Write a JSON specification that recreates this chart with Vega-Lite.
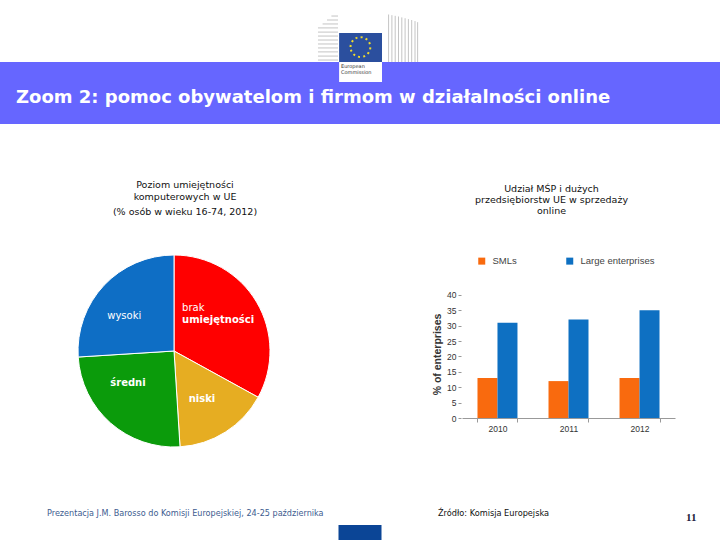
{
  "$schema": "https://vega.github.io/schema/vega-lite/v6.json",
  "background": "white",
  "padding": 0,
  "spacing": 0,
  "config": {"view": {"stroke": null}, "font": "DejaVu Sans"},
  "resolve": {"scale": {"color": "independent", "x": "independent", "y": "independent"}, "legend": {"color": "independent"}},
  "vconcat": [
    {
      "width": 720,
      "height": 180,
      "data": {"values": [
        {"strefa": "pasek", "element": "tytuł", "tekst": "Zoom 2: pomoc obywatelom i firmom w działalności online"},
        {"strefa": "logo", "element": "logo", "tekst": "European\nCommission"}
      ]},
      "encoding": {
        "y": {"field": "strefa", "type": "nominal", "scale": {"type": "band", "domain": ["logo", "pasek", "odstęp"], "range": [0, 186], "paddingInner": 0, "paddingOuter": 0}, "axis": null}
      },
      "layer": [
        {"transform": [{"filter": "datum.strefa === 'pasek'"}], "mark": {"type": "rect", "color": "#6666FF"}},
        {"transform": [{"filter": "datum.strefa === 'pasek'"}],
         "mark": {"type": "text", "align": "left", "baseline": "alphabetic", "dy": 10, "fontSize": 18, "fontWeight": "bold", "color": "white"},
         "encoding": {"x": {"field": "element", "type": "nominal", "scale": {"type": "point", "domain": ["tytuł", "logo"], "range": [16, 360], "padding": 0}, "axis": null}, "text": {"field": "tekst"}}},
        {"transform": [{"filter": "datum.strefa === 'logo'"}],
         "mark": {"type": "point", "shape": "M-1.3,-0.68H-1M-1.5,-0.5H-1M-1.7,-0.32H-1M-1.91,-0.14H-1M-1.91,0.05H-1M-1.91,0.23H-1M-1.91,0.41H-1M-1.91,0.59H-1M-1.91,0.77H-1M-1.91,0.95H-1M-1.91,1.14H-1M-1.91,1.32H-1M1.3,-0.75V1.41M1.45,-0.72V1.41M1.6,-0.69V1.41M1.75,-0.66V1.41M1.9,-0.62V1.41M2.05,-0.58V1.41M2.2,-0.54V1.41M2.35,-0.5V1.41M2.5,-0.45V1.41M2.62,-0.4V1.41", "size": 1936, "filled": false, "stroke": "#C4C4C4", "strokeWidth": 1, "opacity": 1},
         "encoding": {"x": {"field": "element", "type": "nominal", "scale": {"type": "point", "domain": ["tytuł", "logo"], "range": [16, 360], "padding": 0}, "axis": null}}},
        {"transform": [{"filter": "datum.strefa === 'logo'"}],
         "mark": {"type": "point", "shape": "M-0.95,0.09H1V1.41H-0.95Z", "size": 1936, "filled": true, "color": "#2B4F9E", "strokeWidth": 0, "opacity": 1},
         "encoding": {"x": {"field": "element", "type": "nominal", "scale": {"type": "point", "domain": ["tytuł", "logo"], "range": [16, 360], "padding": 0}, "axis": null}}},
        {"transform": [{"filter": "datum.strefa === 'logo'"}],
         "mark": {"type": "point", "shape": "M-0.95,1.41H1V2.32H-0.95Z", "size": 1936, "filled": true, "color": "#FFFFFF", "strokeWidth": 0, "opacity": 1},
         "encoding": {"x": {"field": "element", "type": "nominal", "scale": {"type": "point", "domain": ["tytuł", "logo"], "range": [16, 360], "padding": 0}, "axis": null}}},
        {"transform": [{"filter": "datum.strefa === 'logo'"}],
         "mark": {"type": "point", "shape": "M-0.43,0.73A0.45,0.45 0 1,1 0.47,0.73A0.45,0.45 0 1,1 -0.43,0.73Z", "size": 1936, "filled": false, "stroke": "#F2DC2A", "strokeWidth": 2, "strokeDash": [2, 3.2], "opacity": 1},
         "encoding": {"x": {"field": "element", "type": "nominal", "scale": {"type": "point", "domain": ["tytuł", "logo"], "range": [16, 360], "padding": 0}, "axis": null}}},
        {"transform": [{"filter": "datum.strefa === 'logo'"}],
         "mark": {"type": "text", "align": "left", "baseline": "top", "dx": -19, "dy": 33, "fontSize": 5, "lineBreak": "\n", "lineHeight": 6, "color": "#333333"},
         "encoding": {"x": {"field": "element", "type": "nominal", "scale": {"type": "point", "domain": ["tytuł", "logo"], "range": [16, 360], "padding": 0}, "axis": null}, "text": {"field": "tekst"}}}
      ]
    },
    {
      "spacing": 84,
      "resolve": {"scale": {"color": "independent"}, "legend": {"color": "independent"}},
      "hconcat": [
        {
          "width": 348,
          "height": 194,
          "title": {"text": ["Poziom umiejętności", "komputerowych w UE"], "subtitle": "(% osób w wieku 16-74, 2012)", "font": "DejaVu Sans", "subtitleFont": "DejaVu Sans", "fontSize": 9.5, "subtitleFontSize": 9.5, "fontWeight": "normal", "lineHeight": 12, "subtitlePadding": 5, "color": "#111111", "subtitleColor": "#111111", "anchor": "middle", "dx": 11, "offset": 37},
          "data": {"values": [
            {"poziom": "brak umiejętności", "udział": 33, "nr": 1, "linia1": "brak", "linia2": "umiejętności"},
            {"poziom": "niski", "udział": 16, "nr": 2, "linia1": "", "linia2": "niski"},
            {"poziom": "średni", "udział": 25, "nr": 3, "linia1": "", "linia2": "średni"},
            {"poziom": "wysoki", "udział": 26, "nr": 4, "linia1": "wysoki", "linia2": ""}
          ]},
          "encoding": {
            "theta": {"field": "udział", "type": "quantitative", "stack": true},
            "order": {"field": "nr", "type": "quantitative"},
            "detail": {"field": "poziom", "type": "nominal"}
          },
          "layer": [
            {"mark": {"type": "arc", "outerRadius": 96, "stroke": "white", "strokeWidth": 1},
             "encoding": {"color": {"field": "poziom", "type": "nominal", "scale": {"domain": ["brak umiejętności", "niski", "średni", "wysoki"], "range": ["#FF0000", "#E6AD22", "#0B9B0B", "#0E6EC5"]}, "legend": null}}},
            {"mark": {"type": "text", "radius": 57, "align": "left", "baseline": "middle", "dx": -41, "dy": -14, "color": "white", "fontSize": 10},
             "encoding": {"text": {"condition": {"test": "datum.poziom === 'brak umiejętności'", "field": "linia1"}, "value": ""}}},
            {"mark": {"type": "text", "radius": 57, "align": "left", "baseline": "middle", "dx": -41, "dy": -2, "color": "white", "fontSize": 10, "fontWeight": "bold"},
             "encoding": {"text": {"condition": {"test": "datum.poziom === 'brak umiejętności'", "field": "linia2"}, "value": ""}}},
            {"mark": {"type": "text", "radius": 60, "align": "center", "baseline": "middle", "dx": -6, "dy": 6, "color": "white", "fontSize": 10},
             "encoding": {"text": {"condition": {"test": "datum.poziom === 'wysoki'", "field": "linia1"}, "value": ""}}},
            {"mark": {"type": "text", "radius": 56, "align": "center", "baseline": "middle", "dx": -9, "dy": -10, "color": "white", "fontSize": 10, "fontWeight": "bold"},
             "encoding": {"text": {"condition": {"test": "datum.poziom === 'średni'", "field": "linia2"}, "value": ""}}},
            {"mark": {"type": "text", "radius": 56, "align": "center", "baseline": "middle", "dx": -2, "dy": 1, "color": "white", "fontSize": 10, "fontWeight": "bold"},
             "encoding": {"text": {"condition": {"test": "datum.poziom === 'niski'", "field": "linia2"}, "value": ""}}}
          ]
        },
        {
          "width": 213,
          "height": 164,
          "title": {"text": ["Udział MŚP i dużych", "przedsiębiorstw UE w sprzedaży", "online"], "font": "DejaVu Sans", "fontSize": 9.5, "fontWeight": "normal", "lineHeight": 11, "color": "#111111", "anchor": "middle", "dx": -17, "offset": 39},
          "data": {"values": [
            {"rok": "2010", "typ": "SMLs", "odsetek": 13},
            {"rok": "2010", "typ": "Large enterprises", "odsetek": 31},
            {"rok": "2011", "typ": "SMLs", "odsetek": 12},
            {"rok": "2011", "typ": "Large enterprises", "odsetek": 32},
            {"rok": "2012", "typ": "SMLs", "odsetek": 13},
            {"rok": "2012", "typ": "Large enterprises", "odsetek": 35}
          ]},
          "mark": {"type": "bar"},
          "encoding": {
            "x": {"field": "rok", "type": "nominal", "scale": {"paddingInner": 0.437, "paddingOuter": 0.218},
                  "axis": {"title": null, "labelAngle": 0, "tickBand": "extent", "domainColor": "#999999", "tickColor": "#999999", "tickSize": 4, "labelFont": "Liberation Sans", "labelFontSize": 8.5, "labelColor": "#333333", "labelPadding": 2}},
            "xOffset": {"field": "typ", "type": "nominal", "scale": {"domain": ["SMLs", "Large enterprises"], "paddingInner": 0, "paddingOuter": 0}},
            "y": {"field": "odsetek", "type": "quantitative", "scale": {"domain": [0, 53.33], "nice": false},
                  "axis": {"title": "% of enterprises", "titleY": 100, "values": [0, 5, 10, 15, 20, 25, 30, 35, 40], "grid": false, "domain": false, "tickColor": "#999999", "tickSize": 3, "offset": 1, "labelFont": "Liberation Sans", "labelFontSize": 8.5, "labelColor": "#333333", "labelPadding": 2, "titleFont": "Liberation Sans", "titleFontSize": 10.5, "titleFontWeight": "bold", "titleColor": "#333333", "titlePadding": 4}},
            "color": {"field": "typ", "type": "nominal", "scale": {"domain": ["SMLs", "Large enterprises"], "range": ["#F96A0E", "#0E70C2"]},
                      "legend": {"title": null, "orient": "none", "legendX": 15, "legendY": 2, "direction": "horizontal", "symbolType": "square", "symbolSize": 49, "symbolStrokeWidth": 0, "labelFont": "Liberation Sans", "labelFontSize": 9.5, "labelColor": "#444444", "labelOffset": 6, "columnPadding": 48}}
          }
        }
      ]
    },
    {
      "width": 720,
      "height": 92,
      "data": {"values": [
        {"element": "prezentacja", "tekst": "Prezentacja J.M. Barosso do Komisji Europejskiej, 24-25 października"},
        {"element": "źródło", "tekst": "Źródło: Komisja Europejska"},
        {"element": "strona", "tekst": "11"},
        {"element": "pasek", "tekst": ""}
      ]},
      "layer": [
        {"transform": [{"filter": "datum.element === 'prezentacja'"}],
         "mark": {"type": "text", "align": "left", "baseline": "middle", "dx": -313, "dy": 19, "fontSize": 8.1, "color": "#3D5C8F"},
         "encoding": {"text": {"field": "tekst"}}},
        {"transform": [{"filter": "datum.element === 'źródło'"}],
         "mark": {"type": "text", "align": "left", "baseline": "middle", "dx": 78, "dy": 19, "fontSize": 8.2, "color": "#111111"},
         "encoding": {"text": {"field": "tekst"}}},
        {"transform": [{"filter": "datum.element === 'strona'"}],
         "mark": {"type": "text", "align": "left", "baseline": "middle", "dx": 326, "dy": 23, "font": "Liberation Serif", "fontSize": 11, "fontWeight": "bold", "color": "#1A1A3A"},
         "encoding": {"text": {"field": "tekst"}}},
        {"transform": [{"filter": "datum.element === 'pasek'"}],
         "mark": {"type": "point", "shape": "M-1,1.4H1V2.4H-1Z", "size": 1849, "filled": true, "color": "#0B4596", "strokeWidth": 0, "opacity": 1},
         "encoding": {}}
      ]
    }
  ]
}
